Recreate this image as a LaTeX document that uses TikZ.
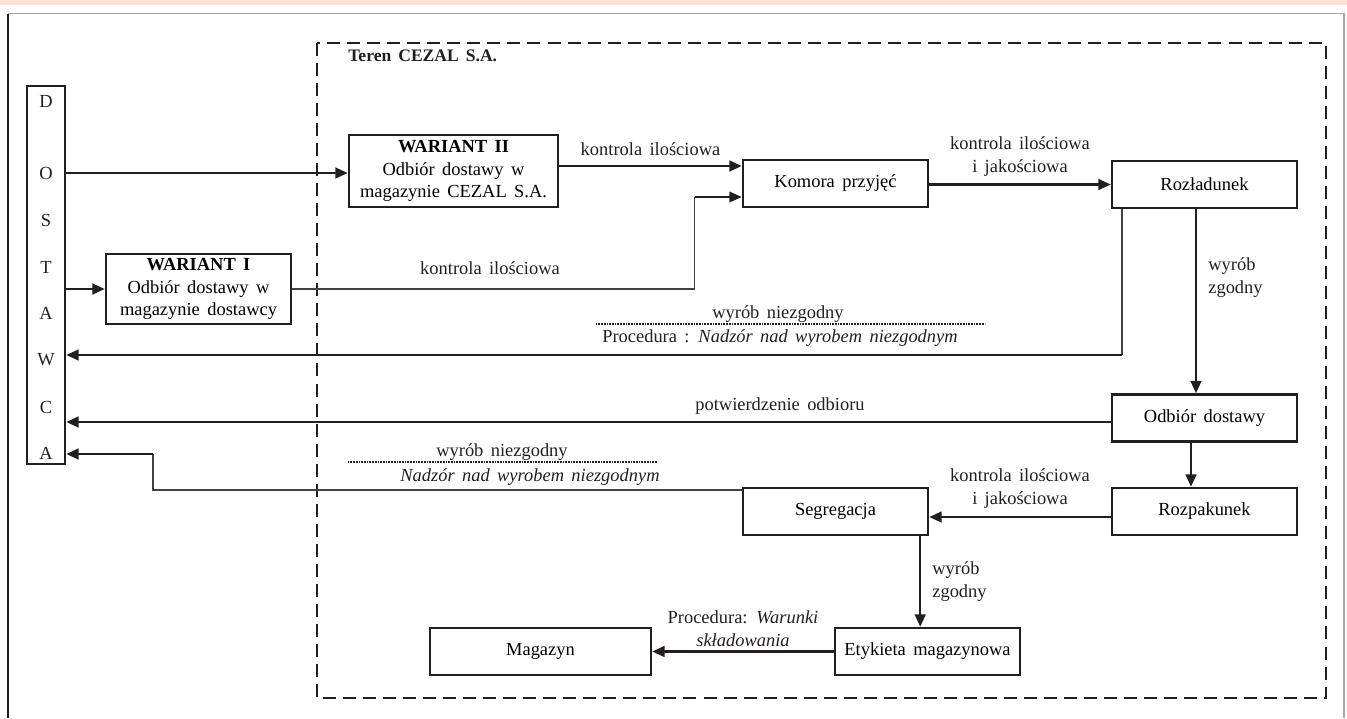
\documentclass[tikz,border=0pt]{standalone}
\usepackage{fontspec}
\setmainfont{Liberation Serif}[WordSpace=1.6]
\usetikzlibrary{positioning, arrows.meta, calc}
\definecolor{inkc}{HTML}{231F20}
\definecolor{bandc}{HTML}{FDE1D9}

\begin{document}
\begin{tikzpicture}[
    x=0.02cm, y=-0.02cm,
    box/.style={draw=inkc, line width=1.4pt, rectangle, minimum width=3.7cm, minimum height=0.94cm, inner sep=0pt, align=center, font=\fontsize{10.5}{13}\selectfont},
    lbl/.style={inner sep=0pt, align=center, text=inkc, font=\fontsize{10.5}{13}\selectfont},
    flow/.style={draw=inkc, line width=1.4pt, -{Triangle[length=7pt, width=6pt]}},
    thinline/.style={draw=inkc!85, line width=0.6pt},
    dotline/.style={draw=inkc, line width=1pt, dash pattern=on 0.5pt off 0.4pt}
]
    \useasboundingbox (0,0) rectangle (1347,718);

    % Page frame
    \fill[bandc] (0,0) rectangle (1347,5);
    \draw[gray!70, line width=1pt] (8,13.5) -- (1344,13.5) -- (1344,718);
    \draw[inkc, line width=1pt] (8,13.5) -- (8,718);

    % Area of the company
    \draw[inkc, line width=1.2pt, dash pattern=on 7.4pt off 4pt] (317,43) rectangle (1326,698);
    \node[lbl, anchor=west, font=\fontsize{10}{12}\bfseries] (teren) at (348,56) {Teren  CEZAL S.A.};

    % Supplier
    \node[draw=inkc, line width=1.4pt, minimum width=0.76cm, minimum height=7.56cm, inner sep=0pt] (dostawca) at (46,275) {};
    \foreach \l/\y [count=\i] in {D/101,O/173,S/220,T/267,A/313,W/360,C/407,A/453}
        \node[lbl] (let\i) at (46,\y) {\l};

    % Boxes
    \node[box, minimum width=4.18cm, minimum height=1.44cm] (W2) at (453.5,171) {\textbf{WARIANT  II}\\Odbiór dostawy  w\\magazynie  CEZAL S.A.};
    \node[box, minimum height=1.4cm] (W1) at (198.5,289) {\textbf{WARIANT  I}\\Odbiór dostawy  w\\magazynie  dostawcy};
    \node[box] (KOMORA) at (835.5,183.5) {Komora  przyjęć};
    \node[box] (ROZL) at (1204.5,184.5) {Rozładunek};
    \node[box] (ODBIOR) at (1204.5,418) {Odbiór  dostawy};
    \node[box] (ROZP) at (1204.5,511.5) {Rozpakunek};
    \node[box] (SEGR) at (835.5,511.5) {Segregacja};
    \node[box] (ETYK) at (927.5,651.5) {Etykieta magazynowa};
    \node[box, minimum width=4.42cm] (MAG) at (540.5,651.5) {Magazyn};

    % Incoming deliveries
    \draw[flow] (dostawca.east |- let2) -- (W2.west |- let2);
    \draw[flow] (dostawca.east |- W1.west) -- (W1.west);
    \coordinate (kin1) at ($(KOMORA.west)+(0,-17.5)$);
    \coordinate (kin2) at ($(KOMORA.west)+(0,13.5)$);
    \draw[flow] (W2.east |- kin1) -- (kin1) node[lbl, midway, above=5pt] (L1) {kontrola  ilościowa};
    \draw[thinline] (W1.east) -| ($(kin2)+(-47,0)$);
    \draw[draw=inkc, line width=0.9pt, -{Triangle[length=7pt, width=6pt]}] ($(kin2)+(-47,0)$) -- (kin2);
    \node[lbl] (L2) at (490,268) {kontrola  ilościowa};
    \draw[flow] (KOMORA.east |- ROZL.west) -- (ROZL.west) node[lbl, midway, above=4pt] (L3) {kontrola  ilościowa\\i  jakościowa};

    % Unloading
    \draw[flow] ([xshift=-0.17cm]ROZL.south) -- ([xshift=-0.17cm]ODBIOR.north);
    \node[lbl, anchor=west, align=left] (L4) at (1208,277.5) {wyrób\\zgodny};
    \coordinate (nz1) at (1122,355);
    \draw[thinline] (ROZL.south west -| nz1) -- (nz1);
    \draw[flow] (nz1) -- (dostawca.east |- nz1);
    \node[lbl] (L5) at (778,314) {wyrób  niezgodny};
    \draw[dotline] (596,324) -- (985,324);
    \node[lbl] (L6) at (780,338) {Procedura : \textit{Nadzór  nad  wyrobem  niezgodnym}};

    % Receipt confirmation
    \coordinate (pot) at ($(ODBIOR.west)+(0,4)$);
    \draw[flow] (pot) -- (dostawca.east |- pot);
    \node[lbl] (L7) at (780,406) {potwierdzenie  odbioru};
    \draw[flow] ([xshift=-0.27cm]ODBIOR.south) -- ([xshift=-0.27cm]ROZP.north);

    % Unpacking and sorting
    \draw[flow] ([yshift=-0.11cm]ROZP.west) -- ([yshift=-0.11cm]SEGR.east) node[lbl, midway, above=4pt] (L8) {kontrola  ilościowa\\i  jakościowa};
    \coordinate (nz2) at (153,490);
    \coordinate (nz3) at (153,454);
    \draw[thinline] (SEGR.west |- nz2) -- (nz2) -- (nz3);
    \draw[flow] (nz3) -- (dostawca.east |- nz3);
    \node[lbl] (L9) at (502,452) {wyrób  niezgodny};
    \draw[dotline] (348,462) -- (657,462);
    \node[lbl] (L10) at (530,477) {\textit{Nadzór  nad  wyrobem  niezgodnym}};

    % Storage
    \coordinate (sg) at ($(SEGR.south east)+(-9,0)$);
    \draw[flow] (sg) -- (sg |- ETYK.north);
    \node[lbl, anchor=west, align=left] (L11) at (932,581.5) {wyrób\\zgodny};
    \draw[flow] (ETYK.west) -- (MAG.east) node[lbl, midway, above=2pt] (L12) {Procedura: \textit{Warunki}\\\textit{składowania}};

\end{tikzpicture}
\end{document}
